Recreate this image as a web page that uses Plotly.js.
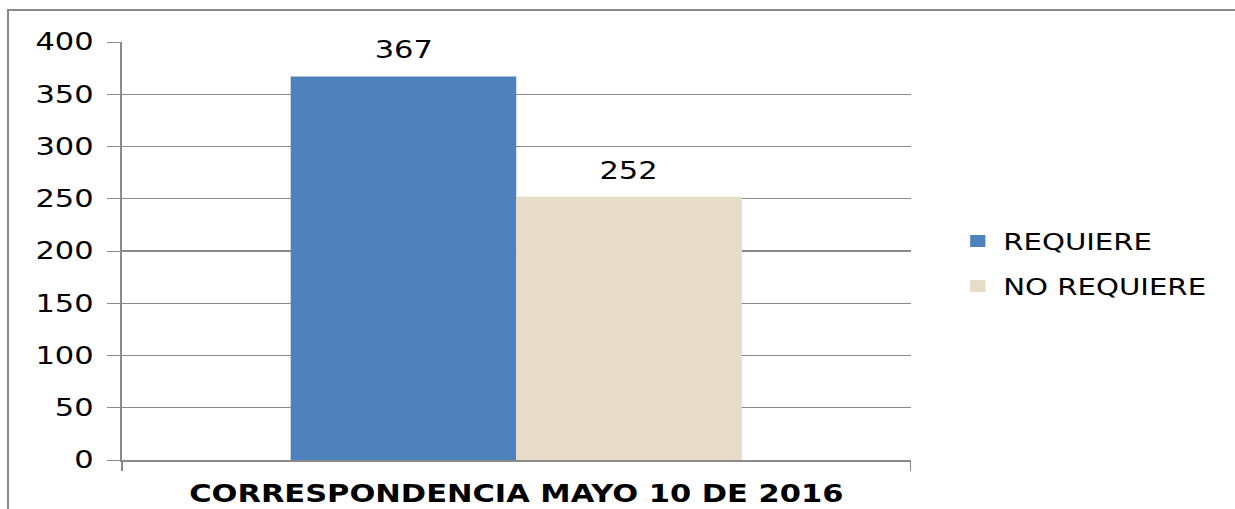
<!DOCTYPE html>
<html><head><meta charset="utf-8">
<script src="https://cdn.plot.ly/plotly-3.0.1.min.js"></script>
<style>
html,body{margin:0;padding:0;background:#fff;overflow:hidden;}
#wrap{position:relative;width:1235px;height:509px;overflow:hidden;}
#chart{width:1000px;height:509px;transform:scaleX(1.27);transform-origin:0 0;}
#frame{position:absolute;left:7px;top:9px;width:1240px;height:520px;border-left:2px solid #8a8a8a;border-top:2px solid #8a8a8a;pointer-events:none;}
</style></head>
<body>
<div id="wrap"><div id="chart"></div><div id="frame"></div></div>
<script>
const categories = ["CORRESPONDENCIA MAYO 10 DE 2016"];
const seriesNames = ["REQUIERE", "NO REQUIERE"];
const requiere = [367];
const noRequiere = [252];
const yTicks = [0, 50, 100, 150, 200, 250, 300, 350, 400];

const font = "Verdana, 'DejaVu Sans', sans-serif";
const traces = [
  {type:'bar', name:seriesNames[0], x:categories, y:requiere, legendgroup:'a',
   marker:{color:'#4f81bd'}, offsetgroup:'a'},
  {type:'bar', name:seriesNames[1], x:categories, y:noRequiere, legendgroup:'b',
   marker:{color:'#e6dcc8', pattern:{shape:'#', fgcolor:'#b8aa8a', bgcolor:'#ebe3d2', size:4, solidity:0.4}}, offsetgroup:'b'}
];
const annotations = [
  {x:-0.143, y:requiere[0], text:String(requiere[0])},
  {x:0.143, y:noRequiere[0], text:String(noRequiere[0])}
].map(a=>Object.assign(a,{xref:'x', yref:'y', yanchor:'bottom', yshift:10, showarrow:false,
   font:{family:font,size:24,color:'#000'}}));

const layout = {
  width:1000, height:509,
  margin:{l:96, r:283, t:42, b:49, pad:0, autoexpand:false},
  paper_bgcolor:'#fff', plot_bgcolor:'#fff',
  barmode:'group', bargap:0.428, bargroupgap:0,
  font:{family:font, color:'#000'},
  showlegend:true,
  legend:{x:1.053, y:0.47, xanchor:'left', yanchor:'middle', font:{family:font,size:23,color:'#000'},
          traceorder:'grouped', tracegroupgap:12, itemwidth:30, bgcolor:'rgba(0,0,0,0)'},
  annotations: annotations,
  xaxis:{type:'category', tickmode:'array', tickvals:categories, ticktext:categories.map(c=>'<b>'+c+'</b>'),
         tickfont:{family:font,size:24,color:'#000'}, showline:true, linecolor:'#8a8a8a', linewidth:1.5,
         ticks:'outside', tickson:'boundaries', ticklen:9, tickcolor:'#8a8a8a', showgrid:false, zeroline:false,
         ticklabelstandoff:12, range:[-0.5,0.5]},
  yaxis:{range:[0,400], tickmode:'array', tickvals:yTicks, ticktext:yTicks.map(String),
         tickfont:{family:font,size:24,color:'#000'}, showgrid:true, gridcolor:'#8a8a8a', gridwidth:1.2,
         showline:true, linecolor:'#8a8a8a', linewidth:1.5, ticks:'outside', ticklen:10, tickcolor:'#8a8a8a',
         zeroline:false, fixedrange:true, ticklabelstandoff:6}
};
Plotly.newPlot('chart', traces, layout, {displayModeBar:false, staticPlot:true});
</script>
</body></html>
